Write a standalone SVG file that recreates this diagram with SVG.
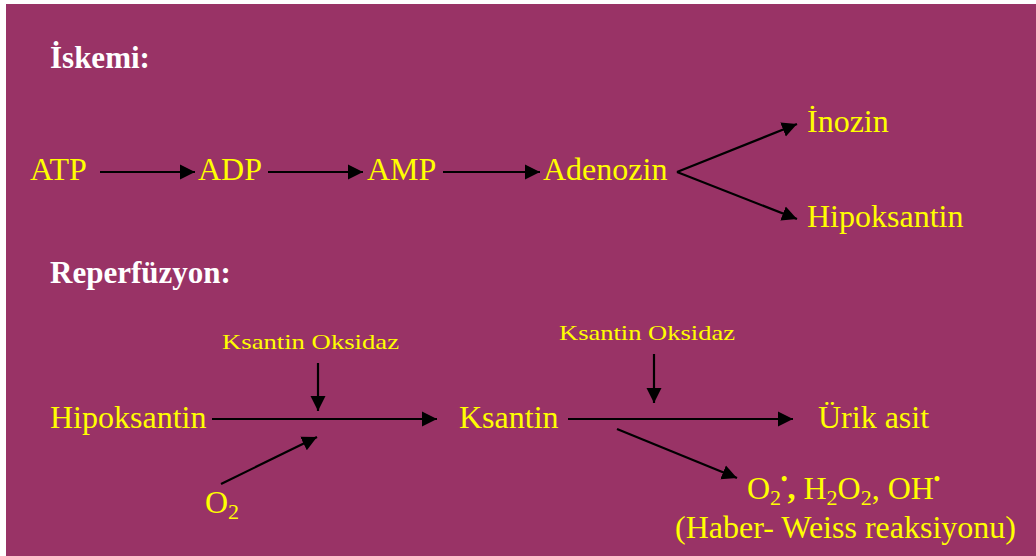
<svg xmlns="http://www.w3.org/2000/svg" width="1036" height="556" viewBox="0 0 1036 556">
<style>
.h{font-family:'Liberation Serif','Times New Roman',serif;font-weight:bold;font-size:31px;fill:#FFFFFF}
.t{font-family:'Liberation Serif','Times New Roman',serif;font-size:32px;fill:#FFFF00}
.s{font-family:'Liberation Serif','Times New Roman',serif;font-size:22px;fill:#FFFF00}
.c line{stroke:#000;stroke-width:2.2;marker-end:url(#ah)}
</style>
<defs>
<marker id="ah" markerUnits="userSpaceOnUse" markerWidth="16" markerHeight="16" refX="15" refY="7.5" orient="auto" viewBox="0 0 16 15">
<path d="M0,0 L15,7.5 L0,15 Z" fill="#000"/>
</marker>
</defs>
<rect x="6" y="4" width="1030" height="552" fill="#993366"/>
<text class="h" x="50" y="68">İskemi:</text>
<text class="h" x="50" y="283">Reperfüzyon:</text>
<g id="atp"><text class="t" x="30" y="180">ATP</text></g>
<g id="adp"><text class="t" x="198" y="180">ADP</text></g>
<g id="amp"><text class="t" x="367" y="180">AMP</text></g>
<g id="adenozin"><text class="t" x="543" y="180">Adenozin</text></g>
<g id="inozin"><text class="t" x="807" y="132">İnozin</text></g>
<g id="hipoksantin1"><text class="t" x="807" y="227">Hipoksantin</text></g>
<g id="hipoksantin2"><text class="t" x="50" y="428">Hipoksantin</text></g>
<g id="ksantin"><text class="t" x="459" y="428">Ksantin</text></g>
<g id="urik"><text class="t" x="818" y="428">Ürik asit</text></g>
<g id="ko1"><text class="s" x="222" y="349" textLength="177" lengthAdjust="spacingAndGlyphs">Ksantin Oksidaz</text></g>
<g id="ko2"><text class="s" x="559" y="340" textLength="176" lengthAdjust="spacingAndGlyphs">Ksantin Oksidaz</text></g>
<g id="o2"><text class="t" x="205" y="513">O<tspan font-size="22" dy="6">2</tspan></text></g>
<g id="ros"><text class="t" x="747" y="499">O<tspan font-size="22" dy="6">2</tspan><tspan font-size="18" font-weight="bold" dy="-20">•</tspan><tspan font-weight="bold" dy="14">,</tspan><tspan> H</tspan><tspan font-size="22" dy="6">2</tspan><tspan dy="-6">O</tspan><tspan font-size="22" dy="6">2</tspan><tspan dy="-6">, OH</tspan><tspan font-size="18" font-weight="bold" dy="-14">•</tspan></text></g>
<g id="haber"><text class="t" x="675" y="538">(Haber- Weiss reaksiyonu)</text></g>
<g id="connectors" class="c">
<line x1="100" y1="172" x2="195" y2="172"/>
<line x1="268" y1="172" x2="363" y2="172"/>
<line x1="443" y1="172" x2="540" y2="172"/>
<line x1="677" y1="172" x2="797" y2="124"/>
<line x1="677" y1="172" x2="797" y2="219"/>
<line x1="318" y1="363" x2="318" y2="411"/>
<line x1="212" y1="419" x2="437" y2="419"/>
<line x1="221" y1="484" x2="317" y2="437"/>
<line x1="654" y1="354" x2="654" y2="403"/>
<line x1="568" y1="419" x2="793" y2="419"/>
<line x1="617" y1="429" x2="737" y2="478"/>
</g>
</svg>
